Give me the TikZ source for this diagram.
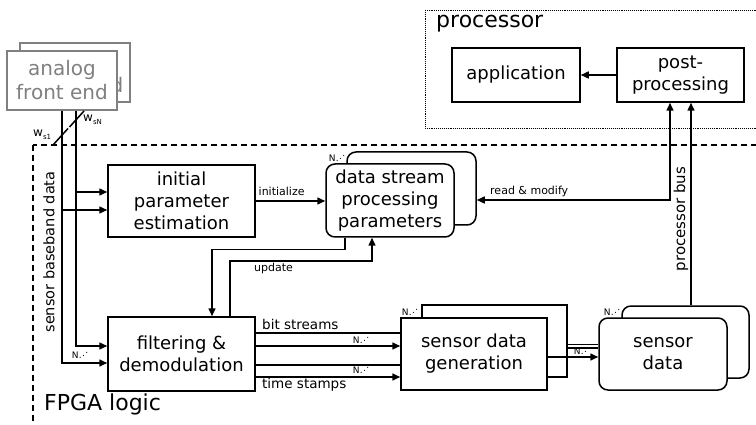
\documentclass[tikz,border=0pt]{standalone}
\usepackage{fontspec}
\setmainfont{DejaVu Sans}
\usetikzlibrary{arrows.meta}

% bus multiplicity mark: N followed by rising dots
\newcommand\busmult{N\kern0.4pt.\kern0.3pt\raisebox{2.2pt}{.}\kern0.3pt\raisebox{4.4pt}{.}}
% signal name with a small lowered index
\newcommand\sigw[1]{w\raisebox{-2.5pt}{\fontsize{7}{8}\selectfont #1}}

\begin{document}
\begin{tikzpicture}[x=1pt,y=-1pt,
  box/.style={draw, line width=1.5pt, fill=white, align=center, inner sep=0pt,
              font=\fontsize{18}{22}\selectfont},
  rbox/.style={box, rounded corners=9pt},
  afebox/.style={box, draw=black!50, text=black!50, font=\fontsize{20}{24}\selectfont,
                 minimum width=110pt, minimum height=59pt},
  conn/.style={line width=1.5pt},
  arr/.style={conn, -{Triangle[length=8pt,width=7pt]}},
  biarr/.style={conn, {Triangle[length=8pt,width=7pt]}-{Triangle[length=8pt,width=7pt]}},
  lbl/.style={font=\fontsize{11}{13}\selectfont, inner sep=0pt, anchor=base west},
  biglbl/.style={font=\fontsize{13.5}{16}\selectfont, inner sep=0pt, anchor=base west},
  nl/.style={font=\fontsize{9}{10}\selectfont, inner sep=0pt},
  title/.style={font=\fontsize{22}{26}\selectfont, inner sep=0pt, anchor=base west},
]
\useasboundingbox (0,0) rectangle (756,425);
\fill[white] (0,0) rectangle (756,425);

% regions
\draw[densely dotted, line width=0.9pt] (425,10) rectangle (770,128);
\draw[line width=1.5pt, dash pattern=on 6pt off 4pt] (33,145) rectangle (780,440);
\node[title] (proclbl) at (436,28) {processor};
\node[title] (fpgalbl) at (44,410) {FPGA logic};

% analog front end (stacked); of the rear card's caption only the last letter peeks out
\node[afebox] (afeb) at (75,72.5) {};
\begin{scope}
  \clip (118,44) rectangle (129,101);
  \node[anchor=base west, inner sep=0pt, text=black!50, font=\fontsize{20}{24}\selectfont] (afebd) at (110.5,93) {d};
\end{scope}
\node[afebox] (afe) at (62,80.5) {analog\\front end};

% processor blocks
\node[box, minimum width=128pt, minimum height=54pt] (app) at (516,75) {application};
\node[box, minimum width=127pt, minimum height=54pt] (post) at (680.5,75) {post-\\processing};

% FPGA blocks
\node[box, minimum width=147pt, minimum height=72pt] (init) at (181.5,201) {initial\\parameter\\estimation};
\node[rbox, minimum width=129pt, minimum height=73pt] (dspb) at (411.5,188.5) {};
\node[rbox, minimum width=128pt, minimum height=73pt] (dsp) at (390,200.5) {data stream\\processing\\parameters};
\node[box, minimum width=147pt, minimum height=74pt] (filt) at (181.5,354) {filtering \&\\demodulation};
\node[box, minimum width=145pt, minimum height=72pt] (sdgb) at (494.5,341) {};
\node[box, minimum width=146pt, minimum height=72pt] (sdg) at (474,354) {sensor data\\generation};
\node[rbox, minimum width=127pt, minimum height=72pt] (sdb) at (685.5,342) {};
\node[rbox, minimum width=128pt, minimum height=72pt] (sd) at (663,354) {sensor\\data};

% sensor baseband buses
\coordinate (busA) at (afe.south);
\coordinate (busB) at ([xshift=14pt]afe.south);
\draw[conn] (53,145) -- (68,128.5);
\draw[conn] (69.5,127) -- (84,111);
\node[inner sep=0pt, anchor=base west, font=\fontsize{12}{14}\selectfont] (ws1) at (33,137) {\sigw{s1}};
\node[inner sep=0pt, anchor=base west, font=\fontsize{12}{14}\selectfont] (wsN) at (83,122) {\sigw{sN}};
\node[font=\fontsize{14.5}{16}\selectfont, inner sep=0pt, rotate=90] (sbd) at (49,252) {sensor baseband data};

\path ([yshift=9pt]init.west) coordinate (ia);
\path ([yshift=-9pt]init.west) coordinate (ib);
\path ([yshift=8pt]filt.west) coordinate (fa);
\path ([yshift=-9pt]filt.west) coordinate (fb);
\draw[arr] (busB |- ia) -- (ia);
\draw[arr] (busA |- ib) -- (ib);
\draw[arr] (busB) |- (fa);
\draw[arr] (busA) |- (fb);
\node[nl] (nfilt) at (80,355) {\busmult};

% initialization
\draw[arr] (init.east) -- (init.east -| dsp.west);
\node[lbl] (initlbl) at (258.5,196) {initialize};

% parameter update loop
\path ([xshift=-45pt]dsp.south) coordinate (uo);
\path ([xshift=30.5pt]filt.north) coordinate (ui);
\path ([xshift=48.5pt]filt.north) coordinate (vo);
\path ([xshift=-18pt]dsp.south) coordinate (vi);
\draw[arr] (uo) -- ++(0,12) -| (ui);
\draw[arr] (vo) -- ++(0,-55) -| (vi);
\node[lbl] (updlbl) at (254,272) {update};
\node[nl] (ndsp) at (337,158) {\busmult};

% processor bus
\coordinate (busL) at ([xshift=-10.5pt]post.south);
\coordinate (busR) at ([xshift=10.5pt]post.south);
\path ([yshift=-11.5pt]dspb.east) coordinate (rm);
\draw[biarr] (rm) -| (busL);
\node[lbl] (rmlbl) at (490,195) {read \& modify};
\draw[arr] (busR |- sdb.north) -- (busR);
\node[font=\fontsize{15}{17}\selectfont, inner sep=0pt, rotate=90] (pbus) at (681,219) {processor bus};
\draw[arr] (post.west) -- (app.east);

% bit streams and time stamps
\path ([yshift=21pt]filt.east) coordinate (b1);
\path ([yshift=8pt]filt.east) coordinate (b2);
\path ([yshift=-11pt]filt.east) coordinate (t1);
\path ([yshift=-23pt]filt.east) coordinate (t2);
\draw[conn] (b1) -- (b1 -| sdg.west);
\draw[arr] (b2) -- (b2 -| sdg.west);
\draw[conn] (t1) -- (t1 -| sdg.west);
\draw[arr] (t2) -- (t2 -| sdg.west);
\node[biglbl] (bslbl) at (262,330) {bit streams};
\node[biglbl] (tslbl) at (262,388) {time stamps};
\node[nl] (nbs) at (361,340) {\busmult};
\node[nl] (nts) at (361,370) {\busmult};
\node[nl] (nsdg) at (410,312) {\busmult};

% sensor data output
\path ([yshift=-3.5pt]sdgb.east) coordinate (s1);
\path ([yshift=-7pt]sdgb.east) coordinate (s2);
\path ([yshift=-3pt]sdg.east) coordinate (s3);
\draw[conn] (s1) -- (s1 -| sd.west);
\draw[conn] (s2) -- (s2 -| sd.west);
\draw[arr] (s3) -- (s3 -| sd.west);
\node[nl] (nsdl) at (582,351) {\busmult};
\node[nl] (nsd) at (612,312) {\busmult};
\end{tikzpicture}
\end{document}
